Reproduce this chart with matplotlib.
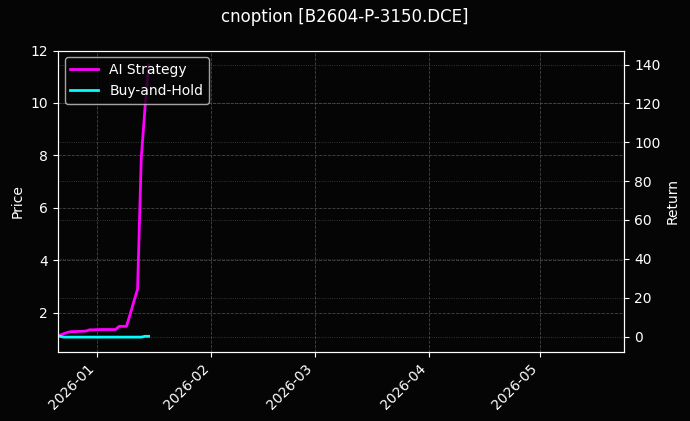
import numpy as np
import pandas as pd
import matplotlib
matplotlib.use('Agg')
import matplotlib.pyplot as plt
import matplotlib.dates as mdates

plt.style.use('dark_background')

# data
dates = pd.to_datetime(['2025-12-22', '2025-12-23', '2025-12-24', '2025-12-25', '2025-12-26',
                        '2025-12-29', '2025-12-30', '2025-12-31', '2026-01-02', '2026-01-05',
                        '2026-01-06', '2026-01-07', '2026-01-08', '2026-01-09', '2026-01-12',
                        '2026-01-13', '2026-01-14', '2026-01-15'])
ai_strategy = [1.15, 1.2, 1.25, 1.28, 1.28, 1.3, 1.35, 1.35, 1.36, 1.36,
               1.36, 1.48, 1.48, 1.48, 2.9, 7.9, 9.8, 11.45]
buy_hold = [1.1, 1.07, 1.07, 1.07, 1.07, 1.07, 1.07, 1.07, 1.07, 1.07,
            1.07, 1.07, 1.07, 1.07, 1.07, 1.07, 1.1, 1.1]

fig, ax = plt.subplots(figsize=(6.9, 4.21), dpi=100)
fig.patch.set_facecolor('#050505')

ax.plot(dates, ai_strategy, color='#ff00ff', lw=2, label='AI Strategy')
ax.plot(dates, buy_hold, color='#00ffff', lw=2, label='Buy-and-Hold')
ax.set_ylabel('Price')
ax.set_ylim(0.52, 12.0)
ax.set_xlim(pd.Timestamp('2025-12-21 10:00'), pd.Timestamp('2026-05-24'))
ax.xaxis.set_major_locator(mdates.MonthLocator())
ax.xaxis.set_major_formatter(mdates.DateFormatter('%Y-%m'))
plt.setp(ax.get_xticklabels(), rotation=45, ha='right')
ax.grid(True, color='#555555', ls='--', lw=0.6, alpha=0.8)

ax2 = ax.twinx()
ax2.set_ylim(-7.7, 147.2)
ax2.set_ylabel('Return')
ax2.grid(True, color='#444444', ls=':', lw=0.6)
ax2.set_facecolor('#050505')

# keep the price lines above the return grid
ax.set_zorder(ax2.get_zorder() + 1)
ax.patch.set_visible(False)

leg = ax.legend(loc='upper left', facecolor='#050505', edgecolor='#cccccc')
fig.suptitle('cnoption [B2604-P-3150.DCE]', fontsize=12)
fig.subplots_adjust(left=0.084, right=0.905, top=0.88, bottom=0.165)
fig.savefig('out.png', facecolor=fig.get_facecolor())
